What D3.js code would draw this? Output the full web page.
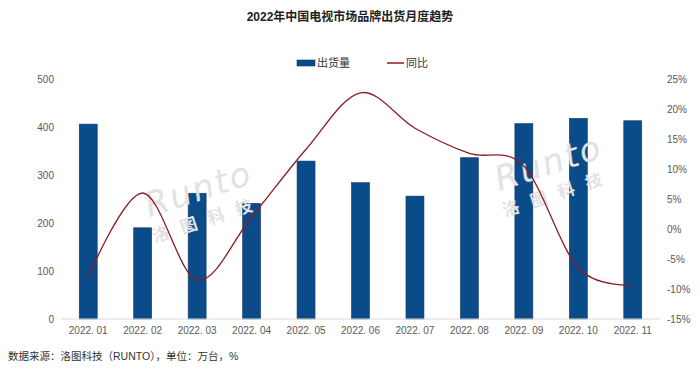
<!DOCTYPE html>
<html>
<head>
<meta charset="utf-8">
<script src="https://cdn.jsdelivr.net/npm/d3@7"></script>
<style>
  body { margin: 0; background: #fff; }
  svg { font-family: "Liberation Sans", "Noto Sans CJK SC", sans-serif; }
</style>
</head>
<body>
<svg id="chart" width="700" height="372"></svg>
<script>
// data
const months = ['2022. 01', '2022. 02', '2022. 03', '2022. 04', '2022. 05', '2022. 06',
  '2022. 07', '2022. 08', '2022. 09', '2022. 10', '2022. 11'];
const shipments = [406, 190, 262, 241, 329, 284, 256, 336, 407, 418, 413];
const yoy = [-8.0, 6.0, -8.5, 2.0, 13.3, 22.7, 16.8, 12.6, 10.5, -6.5, -9.3];
const leftTicks = [0, 100, 200, 300, 400, 500];
const rightTicks = [-15, -10, -5, 0, 5, 10, 15, 20, 25];

const svg = d3.select('#chart');
const margin = {top: 79, bottom: 53, left: 61, right: 40};
const width = 700, height = 372;

const x = d3.scaleBand().domain(months).range([margin.left, width - margin.right])
  .paddingInner(0.67).paddingOuter(0.335);
const yL = d3.scaleLinear().domain([0, 500]).range([height - margin.bottom, margin.top]);
const yR = d3.scaleLinear().domain([-15, 25]).range([height - margin.bottom, margin.top]);

// title
svg.append('text')
  .attr('x', 350).attr('y', 21)
  .attr('text-anchor', 'middle')
  .attr('font-size', 12).attr('font-weight', 'bold').attr('fill', '#222')
  .text('2022年中国电视市场品牌出货月度趋势');

// legend
const legend = svg.append('g').attr('font-size', 11).attr('fill', '#333');
legend.append('rect').attr('x', 297).attr('y', 60).attr('width', 18).attr('height', 6)
  .attr('fill', '#0a4c8a').attr('stroke', '#123a66').attr('stroke-width', 0.6);
legend.append('text').attr('x', 317).attr('y', 67).text('出货量');
legend.append('line').attr('x1', 387).attr('x2', 404).attr('y1', 63).attr('y2', 63)
  .attr('stroke', '#8b1c24').attr('stroke-width', 1.5);
legend.append('text').attr('x', 406).attr('y', 67).text('同比');

// watermarks
function watermark(cx, cy) {
  const g = svg.append('g')
    .attr('transform', `translate(${cx},${cy}) rotate(-18)`)
    .attr('fill', '#e2e2e2');
  g.append('text').attr('text-anchor', 'middle').attr('font-size', 34)
    .attr('font-style', 'italic').attr('font-family', 'DejaVu Sans')
    .attr('letter-spacing', 2).text('Runto');
  g.append('text').attr('y', 26).attr('text-anchor', 'middle').attr('font-size', 17)
    .attr('font-weight', 'bold').attr('letter-spacing', 12).text('洛图科技');
}

// bars
svg.append('g').selectAll('rect')
  .data(shipments)
  .join('rect')
  .attr('x', (d, i) => x(months[i]))
  .attr('y', d => yL(d))
  .attr('width', x.bandwidth())
  .attr('height', d => yL(0) - yL(d))
  .attr('fill', '#0a4c8a')
  .attr('stroke', '#123a66').attr('stroke-width', 0.6);

watermark(202, 200);
watermark(552, 174);

// baseline
svg.append('line')
  .attr('x1', margin.left).attr('x2', width - margin.right)
  .attr('y1', yL(0)).attr('y2', yL(0))
  .attr('stroke', '#d9d9d9').attr('stroke-width', 1.2);

// yoy line, smoothed
const line = d3.line()
  .x((d, i) => x(months[i]) + x.bandwidth() / 2)
  .y(d => yR(d))
  .curve(d3.curveCardinal.tension(0));
svg.append('path')
  .datum(yoy)
  .attr('d', line)
  .attr('fill', 'none')
  .attr('stroke', '#8b1c24')
  .attr('stroke-width', 1.3);

// axes
const leftAxis = svg.append('g')
  .attr('transform', `translate(${margin.left},0)`)
  .call(d3.axisLeft(yL).tickValues(leftTicks).tickSize(0).tickPadding(7));
const rightAxis = svg.append('g')
  .attr('transform', `translate(${width - margin.right - 7},0)`)
  .call(d3.axisRight(yR).tickValues(rightTicks).tickSize(0).tickPadding(14)
    .tickFormat(d => d + '%'));
const xAxis = svg.append('g')
  .attr('transform', `translate(0,${yL(0)})`)
  .call(d3.axisBottom(x).tickSize(0).tickPadding(8));

[leftAxis, rightAxis, xAxis].forEach(a => {
  a.select('.domain').remove();
  a.selectAll('text').attr('font-size', 10).attr('fill', '#595959')
    .attr('font-family', 'Liberation Sans');
});

// footer
svg.append('text')
  .attr('x', 8).attr('y', 360)
  .attr('font-size', 10.5).attr('fill', '#333')
  .text('数据来源：洛图科技（RUNTO），单位：万台，%');
</script>
</body>
</html>
